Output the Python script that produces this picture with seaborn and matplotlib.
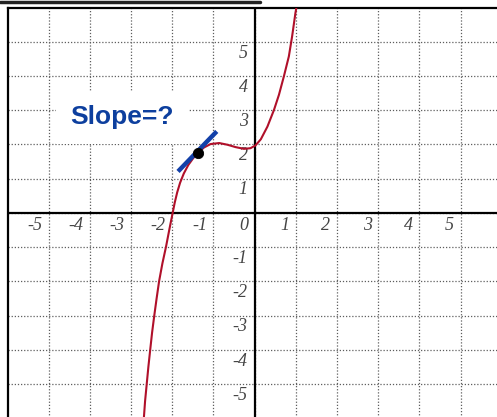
import numpy as np
import pandas as pd
import matplotlib
matplotlib.use("Agg")
import matplotlib.pyplot as plt
import seaborn as sns
from matplotlib.lines import Line2D

# Curve points
curve_x = [-2.72, -2.69, -2.66, -2.62, -2.58, -2.54, -2.49, -2.44, -2.38, -2.32,
           -2.24, -2.15, -2.07, -1.99, -1.94, -1.88, -1.81, -1.72, -1.61, -1.49,
           -1.37, -1.23, -1.07, -0.86, -0.66, -0.46, -0.26, -0.10, 0.02, 0.15,
           0.31, 0.47, 0.59, 0.71, 0.83, 0.91, 0.99, 1.02, 1.04]
curve_y = [-6.3, -6.0, -5.5, -5.0, -4.5, -4.05, -3.5, -3.03, -2.5, -2.0,
           -1.48, -0.98, -0.48, 0.0, 0.3, 0.6, 0.88, 1.15, 1.40, 1.60,
           1.76, 1.91, 2.01, 2.04, 1.99, 1.92, 1.87, 1.89, 1.97, 2.15,
           2.52, 3.01, 3.45, 3.99, 4.57, 5.16, 5.84, 6.04, 6.2]

# Tangent segment and point of tangency
tangent_x = [-1.86, -0.92]
tangent_y = [1.21, 2.38]
point_x = [-1.37]
point_y = [1.76]

tick_values = [-5, -4, -3, -2, -1, 1, 2, 3, 4, 5]
label_text = "Slope=?"

sns.set_style("white")
plt.rcParams["font.family"] = ["Liberation Serif", "DejaVu Serif"]

fig = plt.figure(figsize=(4.97, 4.17), dpi=100)
ax = fig.add_axes([7.5 / 497, -0.0029, 494.3 / 497, 0.9849])

# dotted grid
for v in range(-5, 6):
    ax.axvline(v, color="#5e5e5e", lw=0.9, ls=(0, (1, 1.5)), zorder=0)
    ax.axhline(v, color="#5e5e5e", lw=0.9, ls=(0, (1, 1.5)), zorder=0)

# main axes
ax.axhline(0, color="black", lw=1.6, zorder=1)
ax.axvline(0, color="black", lw=1.6, zorder=1)

curve = pd.DataFrame({"x": curve_x, "y": curve_y})
sns.lineplot(data=curve, x="x", y="y", sort=False, estimator=None,
             color="#b0102a", lw=1.5, ax=ax, zorder=3)

tangent = pd.DataFrame({"x": tangent_x, "y": tangent_y})
sns.lineplot(data=tangent, x="x", y="y", sort=False, estimator=None,
             color="#1340a8", lw=3.2, ax=ax, zorder=4, solid_capstyle="butt")

sns.scatterplot(x=point_x, y=point_y, color="black", s=55, ax=ax, zorder=5,
                edgecolor="black")

# tick labels drawn as text near the grid crossings
for v in tick_values:
    ax.text(v - 0.16, -0.38, str(v), ha="right", va="center", fontsize=13,
            style="italic", color="#444444", zorder=2)
    ax.text(-0.17, v - 0.33, str(v), ha="right", va="center", fontsize=13,
            style="italic", color="#444444", zorder=2)
ax.text(-0.16, -0.38, "0", ha="right", va="center", fontsize=13,
        style="italic", color="#444444", zorder=2)

ax.text(-3.22, 2.79, label_text, ha="center", va="center", fontsize=19,
        fontweight="bold", color="#0d3f9e", family="Liberation Sans",
        bbox=dict(boxstyle="square,pad=0.55", fc="white", ec="none"), zorder=2)

ax.set_xlim(-6, 6)
ax.set_ylim(-6, 6)
ax.set_xticks([])
ax.set_yticks([])
ax.set_xlabel("")
ax.set_ylabel("")
for s in ax.spines.values():
    s.set_color("black")
    s.set_linewidth(1.6)

# stray bar at the very top of the picture
fig.add_artist(Line2D([0, 260 / 497], [1 - 1.5 / 417] * 2, color="#222222", lw=2.5))

fig.savefig("out.png", dpi=100)
